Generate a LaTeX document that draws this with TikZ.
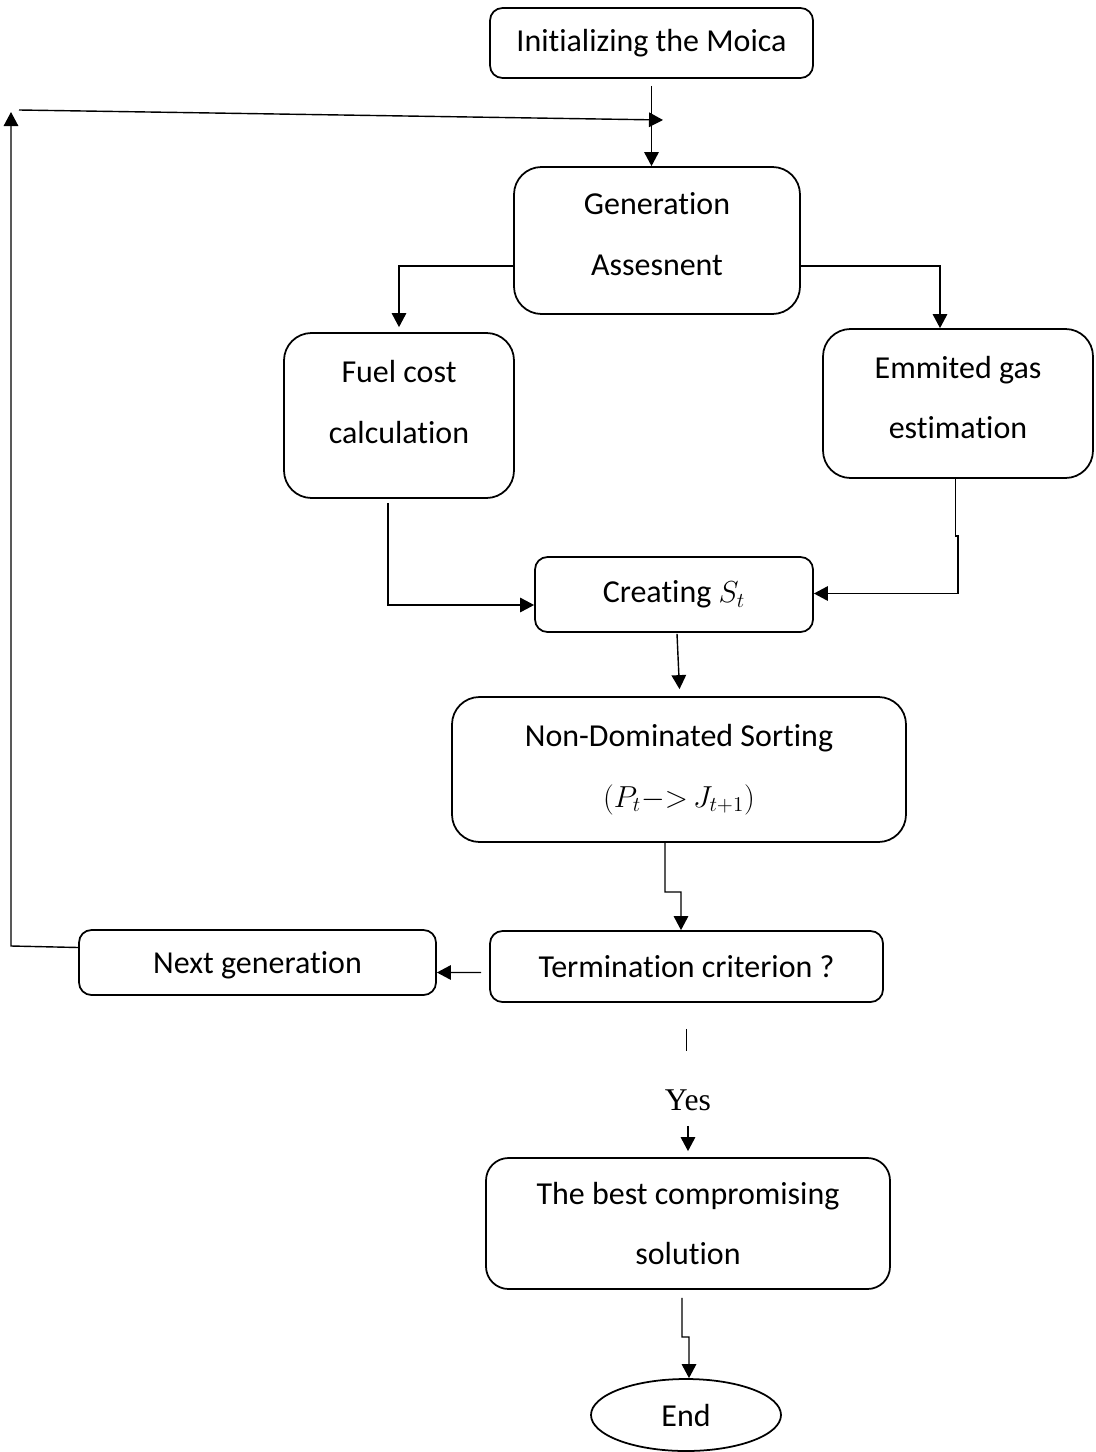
\documentclass[tikz,border=0pt]{standalone}
\usepackage{fontspec}
\setmainfont{Carlito}[Ligatures={NoCommon,NoContextual}]
\newfontfamily\yesfont{Liberation Serif}
\usepackage{tikz}
\usetikzlibrary{arrows.meta,shapes.geometric}
\tikzset{
  flowbox/.style  = {draw,line width=1pt,rounded corners=0.25cm,align=center,inner sep=0pt,
                     font=\fontsize{18.2}{34.5}\selectfont},
  bigbox/.style   = {flowbox,rounded corners=0.55cm},
  endoval/.style  = {draw,line width=1pt,ellipse,inner sep=0pt,font=\fontsize{18.2}{21}\selectfont},
  flowline/.style = {line width=0.8pt},
  flowarr/.style  = {-{Triangle[length=2.8mm,width=2.9mm]},line width=0.8pt}
}

\begin{document}
\begin{tikzpicture}
  \useasboundingbox (0,0) rectangle (21.9,-29.04);
  \node[flowbox,minimum width=6.46cm,minimum height=1.4cm]  (init)     at (13.03,-0.86)  {Initializing the Moica};
  \node[bigbox,minimum width=5.72cm,minimum height=2.94cm,text depth=0.25cm] (gen) at (13.14,-4.81) {Generation\\Assesnent};
  \node[bigbox,minimum width=4.6cm,minimum height=3.3cm,text depth=0.55cm]   (fuel) at (7.98,-8.31) {Fuel cost\\calculation};
  \node[bigbox,minimum width=5.4cm,minimum height=2.98cm,text depth=0.25cm]  (emit) at (19.16,-8.07) {Emmited gas\\estimation};
  \node[flowbox,minimum width=5.56cm,minimum height=1.5cm]  (creating) at (13.48,-11.89) {Creating $S_t$};
  \node[bigbox,minimum width=9.08cm,minimum height=2.9cm]   (nds)      at (13.58,-15.39) {Non-Dominated Sorting\\$(P_t{-}{>}\,J_{t+1})$};
  \node[flowbox,minimum width=7.86cm,minimum height=1.42cm] (term)     at (13.73,-19.33) {Termination criterion ?};
  \node[flowbox,minimum width=7.14cm,minimum height=1.3cm,text depth=0cm] (next) at (5.15,-19.25) {Next generation};
  \node[inner sep=0pt,font=\yesfont\fontsize{18}{21}\selectfont] (yes) at (13.76,-22.0) {Yes};
  \node[bigbox,rounded corners=0.45cm,minimum width=8.08cm,minimum height=2.62cm] (best) at (13.76,-24.47) {The best compromising\\solution};
  \node[endoval,minimum width=3.8cm,minimum height=1.44cm]  (end)      at (13.72,-28.3)  {End};

  \coordinate (loopbot) at (0.22,-18.92);
  \coordinate (looptop) at (0.22,-2.24);
  \coordinate (loopin)  at (0.38,-2.2);
  \coordinate (loopout) at (13.26,-2.4);
  \coordinate (emitjog) at (19.16,-10.72);
  \coordinate (ndsjog)  at (13.3,-17.84);
  \coordinate (bestjog) at (13.64,-26.74);

  \draw[flowarr] ([yshift=-1.4mm]init.south) -- (init.south |- gen.north);
  \draw[flowarr] ([yshift=3mm]next.west) -- (loopbot) -- (looptop);
  \draw[flowarr] (loopin) -- (loopout);
  \draw[flowarr] ([yshift=-5.1mm]gen.west) -| ([yshift=1mm]fuel.north);
  \draw[flowarr] ([yshift=-5.1mm]gen.east) -| ([xshift=-3.6mm]emit.north);
  \draw[flowarr] ([xshift=-2.2mm,yshift=-0.8mm]fuel.south) |- ([yshift=-2.1mm]creating.west);
  \draw[flowarr] ([xshift=-0.5mm]emit.south) -- ([xshift=-0.5mm]emit.south |- emitjog) -- (emitjog) |- ([yshift=0.2mm]creating.east);
  \draw[flowarr] ([xshift=0.6mm,yshift=-0.2mm]creating.south) -- ([xshift=0.1mm,yshift=1.4mm]nds.north);
  \draw[flowarr] ([xshift=-2.8mm]nds.south) -- (ndsjog) -- ++(0.32,0) -- ([xshift=-1.1mm]term.north);
  \draw[flowarr] ([xshift=-1.6mm,yshift=-1.2mm]term.west) -- ([yshift=-2mm]next.east);
  \draw[flowline] ([yshift=-5.2mm]term.south) -- ++(0,-0.44);
  \draw[flowarr] ([yshift=-3mm]yes.south) -- ([yshift=1.2mm]best.north);
  \draw[flowarr] ([xshift=-1.2mm,yshift=-1.6mm]best.south) -- (bestjog) -- ([xshift=0.6mm]bestjog -| end.north) -- ([xshift=0.6mm]end.north);
\end{tikzpicture}
\end{document}
